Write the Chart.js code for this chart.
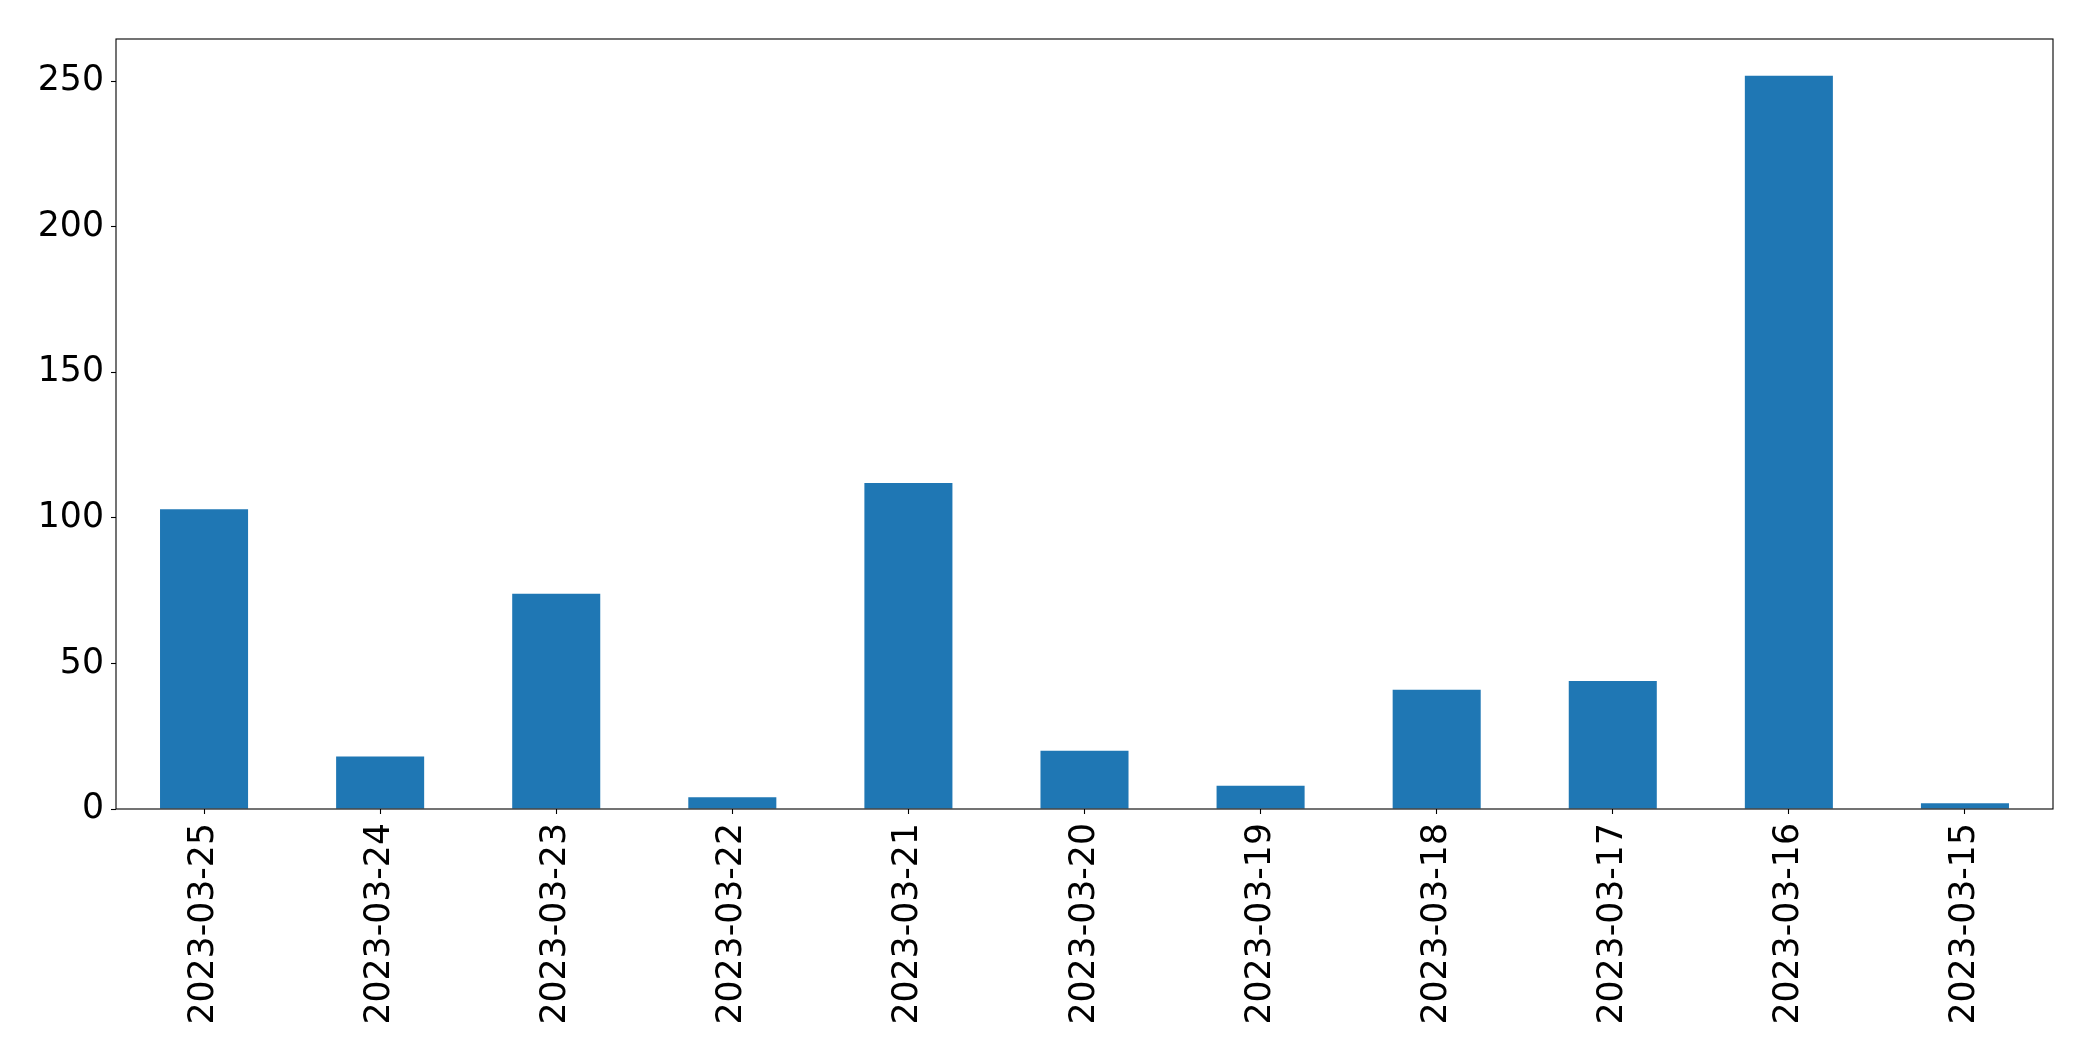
<!DOCTYPE html>
<html>
<head>
<meta charset="utf-8">
<script src="https://cdn.jsdelivr.net/npm/chart.js@4/dist/chart.umd.min.js"></script>
<style>
  html, body { margin: 0; padding: 0; background: #ffffff; }
  #wrap { width: 2093px; height: 1061px; }
</style>
</head>
<body>
<div id="wrap"><canvas id="c" width="2093" height="1061"></canvas></div>
<script>
const categories = ["2023-03-25", "2023-03-24", "2023-03-23", "2023-03-22", "2023-03-21", "2023-03-20", "2023-03-19", "2023-03-18", "2023-03-17", "2023-03-16", "2023-03-15"];
const counts = [103, 18, 74, 4, 112, 20, 8, 41, 44, 252, 2];
const yTicks = [0, 50, 100, 150, 200, 250];
const yMax = 264.6;

const framePlugin = {
  id: 'frame',
  afterDatasetsDraw(chart) {
    const a = chart.chartArea;
    const ctx = chart.ctx;
    ctx.save();
    ctx.strokeStyle = '#000000';
    ctx.lineWidth = 1.1;
    ctx.strokeRect(a.left, a.top, a.right - a.left, a.bottom - a.top);
    ctx.restore();
  }
};

const tickFont = { family: 'DejaVu Sans', size: 34.7 };

new Chart(document.getElementById('c'), {
  type: 'bar',
  data: {
    labels: categories,
    datasets: [{
      data: counts,
      backgroundColor: '#1f77b4',
      borderWidth: 0,
      categoryPercentage: 1.0,
      barPercentage: 0.5
    }]
  },
  options: {
    responsive: false,
    animation: false,
    devicePixelRatio: 1,
    layout: { padding: { top: 39, right: 40, left: 0, bottom: 0 } },
    plugins: { legend: { display: false }, tooltip: { enabled: false }, title: { display: false } },
    scales: {
      x: {
        type: 'category',
        offset: true,
        border: { display: false },
        grid: { display: true, offset: false, drawOnChartArea: false, drawTicks: true, tickLength: 5, tickColor: '#000000', tickWidth: 1.1 },
        ticks: { color: '#000000', font: tickFont, minRotation: 90, maxRotation: 90, autoSkip: false, padding: 9 },
        afterFit(scale) { scale.height = 252; }
      },
      y: {
        min: 0,
        max: yMax,
        border: { display: false },
        grid: { display: true, drawOnChartArea: false, drawTicks: true, tickLength: 5, tickColor: '#000000', tickWidth: 1.1 },
        ticks: { color: '#000000', font: tickFont, stepSize: 50, includeBounds: false, padding: 7 },
        afterBuildTicks(scale) { scale.ticks = yTicks.map(v => ({ value: v })); },
        afterFit(scale) { scale.width = 116; }
      }
    }
  },
  plugins: [framePlugin]
});
</script>
</body>
</html>
